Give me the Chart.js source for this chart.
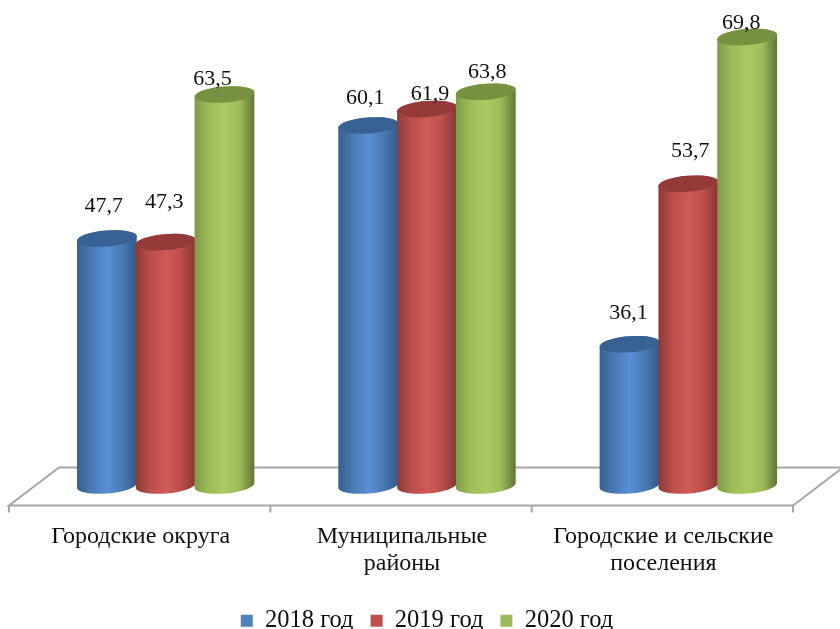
<!DOCTYPE html>
<html>
<head>
<meta charset="utf-8">
<script src="https://cdn.jsdelivr.net/npm/chart.js@4"></script>
<style>
  html, body { margin: 0; padding: 0; background: #fff; }
  canvas { display: block; }
</style>
</head>
<body>
<canvas id="chart" width="840" height="629"></canvas>
<script>
const categories = [['Городские округа'], ['Муниципальные', 'районы'], ['Городские и сельские', 'поселения']];
const seriesNames = ['2018 год', '2019 год', '2020 год'];
const values2018 = [47.7, 60.1, 36.1];
const values2019 = [47.3, 61.9, 53.7];
const values2020 = [63.5, 63.8, 69.8];
const axisMin = 20.6;
const axisMax = 72;

const FONT = '"Liberation Serif", "Times New Roman", serif';
const swatches = ['#4f81bd', '#c0504d', '#9bbb59'];
const cylinderStops = [
    ['#36608f', '#4a7ab5', '#5890d4', '#4a7ab5', '#335a88'],
    ['#8c3a38', '#bd4f4c', '#cf5a56', '#bd4f4c', '#843533'],
    ['#7f9a48', '#9dbd5a', '#a9ca62', '#9dbd5a', '#5f7533']
];
const capColors = ['#386293', '#943b39', '#76913f'];
// hand placed labels, as in the source chart: [dx, dy] from the bar top
const labelNudge = [
    [[-3, -32], [-1.5, -40], [-12, -15]],
    [[-3, -27], [3, -15], [1.5, -20]],
    [[-1, -31], [2, -33], [-6, -14]]
];
const TILT = -0.08;
const RY = 8;

function drawCylinder(ctx, bar, ds) {
    const rx = bar.width / 2;
    const grad = ctx.createLinearGradient(bar.x - rx, 0, bar.x + rx, 0);
    cylinderStops[ds].forEach((c, i) => grad.addColorStop(i / 4, c));
    ctx.fillStyle = grad;
    ctx.beginPath();
    ctx.ellipse(bar.x, bar.base, rx, RY, TILT, 0, Math.PI);
    ctx.ellipse(bar.x, bar.y, rx, RY, TILT, Math.PI, Math.PI * 2);
    ctx.closePath();
    ctx.fill();
    ctx.fillStyle = capColors[ds];
    ctx.beginPath();
    ctx.ellipse(bar.x, bar.y, rx, RY, TILT, 0, Math.PI * 2);
    ctx.fill();
}

const floorPlugin = {
    id: 'floor',
    beforeDatasetsDraw(chart) {
        const { ctx } = chart;
        const x = chart.scales.x;
        const bottom = chart.chartArea.bottom;
        const front = bottom + 20, back = bottom - 18;
        const frontShift = -26, backShift = 24;
        ctx.save();
        ctx.strokeStyle = '#a6a6a6';
        ctx.lineWidth = 2;
        ctx.beginPath();
        ctx.moveTo(x.left + frontShift, front);
        ctx.lineTo(x.left + backShift, back);
        ctx.lineTo(x.right + backShift, back);
        ctx.lineTo(x.right + frontShift, front);
        ctx.closePath();
        ctx.stroke();
        // category ticks on the front edge
        ctx.beginPath();
        for (let i = 0; i <= categories.length; i++) {
            const tx = x.left + frontShift + (x.right - x.left) * i / categories.length;
            ctx.moveTo(tx, front);
            ctx.lineTo(tx, front + 7);
        }
        ctx.stroke();
        // cylinders go left to right so each one overlaps the previous
        chart.data.datasets.forEach((d, ds) => {
            chart.getDatasetMeta(ds).data.forEach(bar => drawCylinder(ctx, bar, ds));
        });
        ctx.restore();
    },
    beforeDatasetDraw() { return false; },
    afterDatasetsDraw(chart) {
        const { ctx } = chart;
        ctx.save();
        ctx.font = '22px ' + FONT;
        ctx.fillStyle = '#111';
        ctx.textAlign = 'center';
        ctx.textBaseline = 'middle';
        chart.data.datasets.forEach((d, ds) => {
            chart.getDatasetMeta(ds).data.forEach((bar, i) => {
                const n = labelNudge[i][ds];
                ctx.fillText(d.data[i].toFixed(1).replace('.', ','), bar.x + n[0], bar.y + n[1]);
            });
        });
        ctx.restore();
    }
};

new Chart(document.getElementById('chart').getContext('2d'), {
    type: 'bar',
    data: {
        labels: categories,
        datasets: [values2018, values2019, values2020].map((data, i) => ({
            label: seriesNames[i],
            data: data,
            base: axisMin,
            backgroundColor: swatches[i],
            categoryPercentage: 0.675,
            barPercentage: 1.02
        }))
    },
    options: {
        responsive: false,
        animation: false,
        layout: { padding: { left: 35, right: 21, top: 17, bottom: -14 } },
        plugins: {
            tooltip: { enabled: false },
            legend: {
                position: 'bottom',
                labels: {
                    boxWidth: 12, boxHeight: 12, padding: 17,
                    color: '#111',
                    font: { family: FONT, size: 24.5 }
                }
            }
        },
        scales: {
            x: {
                grid: { display: false },
                border: { display: false },
                afterFit: s => { s.height = 106; },
                ticks: {
                    autoSkip: false, maxRotation: 0, padding: 30,
                    labelOffset: -25,
                    color: '#111',
                    font: { family: FONT, size: 24, lineHeight: 1.13 }
                }
            },
            y: { display: false, min: axisMin, max: axisMax, beginAtZero: false }
        }
    },
    plugins: [floorPlugin]
});
</script>
</body>
</html>
